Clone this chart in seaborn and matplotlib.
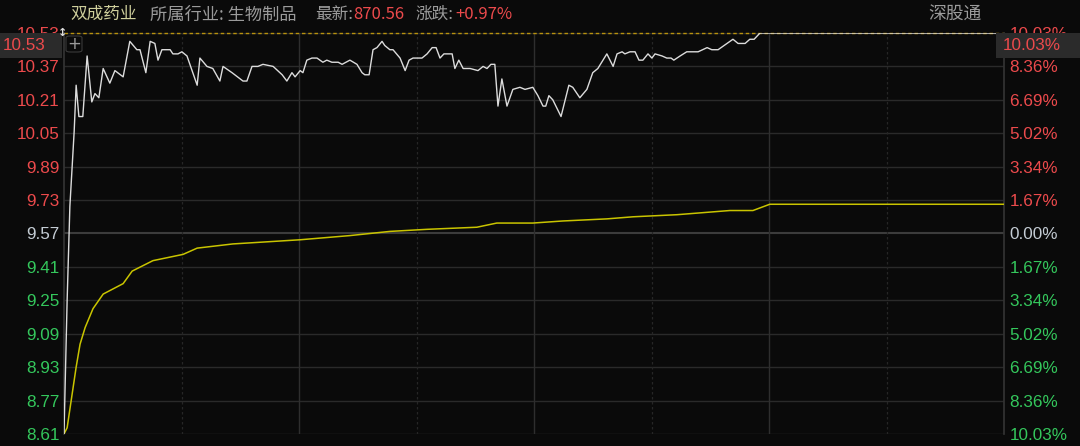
import matplotlib
matplotlib.use("Agg")
import matplotlib.pyplot as plt
import seaborn as sns
import pandas as pd
from matplotlib.patches import FancyBboxPatch

# ---------------- data ----------------
price_minutes = [0, 0.8, 1.5, 2.6, 3.1, 3.8, 4.8, 5.9, 7.1, 7.9, 8.9, 10.0, 11.7, 13.0, 15.1, 16.8,
                 18.6, 19.4, 20.9, 22.0, 23.2, 24.0, 25.0, 27.1, 27.8, 29.1, 30.1, 31.4, 34.0, 34.7,
                 36.5, 38.0, 39.8, 40.6, 42.9, 45.7, 46.7, 48.0, 49.5, 50.8, 53.4, 55.7, 56.9, 58.2,
                 59.0, 60.3, 61.0, 62.0, 63.3, 64.6, 66.1, 67.1, 68.4, 70.0, 71.0, 73.0, 74.8, 76.1,
                 76.8, 77.9, 78.9, 79.9, 81.2, 81.9, 83.2, 84.0, 85.8, 87.1, 88.1, 89.1, 91.4, 92.7,
                 94.0, 95.0, 96.0, 97.0, 99.1, 99.8, 100.8, 101.9, 103.7, 105.7, 107.0, 108.0, 109.0,
                 110.0, 110.8, 111.8, 113.1, 114.6, 116.4, 117.7, 119.7, 121.0, 122.3, 123.0, 123.8,
                 124.8, 126.9, 128.9, 129.9, 131.7, 133.5, 135.0, 136.3, 138.6, 140.2, 141.2, 142.5,
                 143.2, 144.5, 145.8, 146.8, 147.8, 149.1, 150.1, 150.9, 152.7, 153.9, 155.0, 155.7,
                 157.3, 159.0, 161.9, 164.2, 165.4, 167.0, 169.3, 170.8, 172.1, 173.9, 175.1, 176.2,
                 177.7, 240]
price_values = [8.61, 9.25, 9.70, 10.06, 10.28, 10.13, 10.13, 10.42, 10.20, 10.24, 10.22, 10.36,
                10.29, 10.35, 10.32, 10.49, 10.45, 10.45, 10.34, 10.49, 10.48, 10.40, 10.45, 10.45,
                10.43, 10.43, 10.44, 10.42, 10.28, 10.41, 10.37, 10.36, 10.30, 10.37, 10.34, 10.30,
                10.30, 10.37, 10.37, 10.38, 10.37, 10.33, 10.30, 10.34, 10.32, 10.35, 10.34, 10.40,
                10.41, 10.41, 10.39, 10.40, 10.39, 10.39, 10.38, 10.40, 10.38, 10.34, 10.33, 10.33,
                10.45, 10.46, 10.49, 10.47, 10.45, 10.45, 10.41, 10.35, 10.40, 10.41, 10.41, 10.43,
                10.46, 10.46, 10.41, 10.43, 10.43, 10.36, 10.40, 10.36, 10.36, 10.35, 10.37, 10.36,
                10.38, 10.38, 10.18, 10.31, 10.18, 10.26, 10.27, 10.26, 10.27, 10.23, 10.18, 10.18,
                10.23, 10.21, 10.13, 10.28, 10.27, 10.22, 10.26, 10.34, 10.36, 10.43, 10.37, 10.43,
                10.44, 10.43, 10.44, 10.44, 10.40, 10.40, 10.43, 10.41, 10.43, 10.42, 10.41, 10.41,
                10.40, 10.42, 10.44, 10.44, 10.46, 10.45, 10.45, 10.48, 10.50, 10.48, 10.48, 10.50,
                10.50, 10.53, 10.53]

avg_minutes = [0, 0.8, 3.1, 4.1, 5.4, 7.4, 10.0, 15.1, 17.4, 22.7, 30.4, 34.0, 43.1, 60.3, 73.0,
               83.2, 92.7, 105.4, 110.5, 119.7, 127.4, 138.6, 145.3, 156.5, 170.0, 175.9, 180.2, 240]
avg_values = [8.61, 8.64, 8.93, 9.04, 9.12, 9.21, 9.28, 9.33, 9.39, 9.44, 9.47, 9.50, 9.52, 9.54,
              9.56, 9.58, 9.59, 9.60, 9.62, 9.62, 9.63, 9.64, 9.65, 9.66, 9.68, 9.68, 9.71, 9.71]

price_ticks = [10.53, 10.37, 10.21, 10.05, 9.89, 9.73, 9.57, 9.41, 9.25, 9.09, 8.93, 8.77, 8.61]
price_tick_labels = ["10.53", "10.37", "10.21", "10.05", "9.89", "9.73", "9.57", "9.41", "9.25",
                     "9.09", "8.93", "8.77", "8.61"]
pct_tick_labels = ["10.03%", "8.36%", "6.69%", "5.02%", "3.34%", "1.67%", "0.00%", "1.67%",
                   "3.34%", "5.02%", "6.69%", "8.36%", "10.03%"]
prev_close = 9.57
limit_up = 10.53

stock_name = "双成药业"
industry = "所属行业: 生物制品"
latest_label = "最新:"
latest_value = "870.56"
change_label = "涨跌:"
change_value = "+0.97%"
channel = "深股通"

# ---------------- style ----------------
BG = "#0a0a0a"
RED = "#ec4a4c"
GREEN = "#34c75c"
GRAY_TXT = "#9b9b9b"
NEUTRAL = "#c4ccd4"
GRID = "#2a2a2a"

sns.set_theme(style="dark", rc={
    "figure.facecolor": BG, "axes.facecolor": BG, "axes.edgecolor": "#3a3a3a",
    "axes.grid": False, "savefig.facecolor": BG,
})
plt.rcParams["font.family"] = ["Liberation Sans", "DejaVu Sans"]
CJK = ["Noto Sans CJK SC", "DejaVu Sans"]
TICK_FS = 12.3

fig = plt.figure(figsize=(10.8, 4.46), dpi=100)
ax = fig.add_axes([64 / 1080, 1 - 434 / 446, 940 / 1080, 401 / 446])

price_df = pd.DataFrame({"minute": price_minutes, "price": price_values})
avg_df = pd.DataFrame({"minute": avg_minutes, "price": avg_values})

ax.set_xlim(0, 240)
ax.set_ylim(min(price_ticks), max(price_ticks))

# grid
for t in price_ticks:
    ax.axhline(t, color="#3c3c3c" if t == prev_close else GRID,
               lw=1.0 if t != prev_close else 1.5, zorder=0)
for m in [30, 90, 150, 210]:
    ax.axvline(m, color="#262626", lw=0.9, ls=(0, (2, 2)), zorder=0)
for m in [60, 120, 180]:
    ax.axvline(m, color="#2e2e2e", lw=1.0, zorder=0)

# limit-up dashed line
ax.axhline(limit_up, color="#b8920e", lw=1.0, ls=(0, (2.5, 2)), zorder=1, clip_on=False)

sns.lineplot(data=avg_df, x="minute", y="price", ax=ax, color="#c9c400", lw=1.1, zorder=3,
             estimator=None, sort=False)
sns.lineplot(data=price_df, x="minute", y="price", ax=ax, color="#dcdcdc", lw=1.0, zorder=4,
             estimator=None, sort=False)

ax.set_xlabel("")
ax.set_ylabel("")
ax.set_xticks([])
for s in ["top", "bottom"]:
    ax.spines[s].set_visible(False)
ax.spines["left"].set_color("#333333")
ax.spines["right"].set_color("#333333")

def tick_color(v):
    if v > prev_close + 1e-9:
        return RED
    if v < prev_close - 1e-9:
        return GREEN
    return NEUTRAL

ax.set_yticks(price_ticks)
ax.set_yticklabels(price_tick_labels, fontsize=TICK_FS)
ax.tick_params(axis="y", length=0, pad=3)
for lab, v in zip(ax.get_yticklabels(), price_ticks):
    lab.set_color(tick_color(v))

ax2 = ax.twinx()
ax2.set_ylim(ax.get_ylim())
ax2.set_yticks(price_ticks)
ax2.set_yticklabels(pct_tick_labels, fontsize=TICK_FS)
ax2.tick_params(axis="y", length=0, pad=4)
for lab, v in zip(ax2.get_yticklabels(), price_ticks):
    lab.set_color(tick_color(v))
for s in ax2.spines.values():
    s.set_visible(False)
ax2.grid(False)

# header
ty = 1 - 14.5 / 446
fig.text(70 / 1080, ty, stock_name, color="#cfcf9c", fontsize=12, va="center", family=CJK)
fig.text(150 / 1080, ty, industry, color=GRAY_TXT, fontsize=12.4, va="center", family=CJK)
fig.text(315 / 1080, ty, latest_label, color=GRAY_TXT, fontsize=12, va="center", family=CJK)
fig.text(353 / 1080, ty, latest_value, color=RED, fontsize=12, va="center", family=CJK)
fig.text(415 / 1080, ty, change_label, color=GRAY_TXT, fontsize=12, va="center", family=CJK)
fig.text(455 / 1080, ty, change_value, color=RED, fontsize=12, va="center", family=CJK)
fig.text(982 / 1080, ty, channel, color=GRAY_TXT, fontsize=12.8, va="center", ha="right", family=CJK)

# current value boxes (drawn over the partially hidden top tick labels, as in the source)
fig.patches.append(FancyBboxPatch((0, 1 - 58 / 446), 62 / 1080, 25 / 446, boxstyle="square,pad=0",
                                  transform=fig.transFigure, facecolor="#2b2b2b", edgecolor="none",
                                  zorder=5))
fig.text(3 / 1080, 1 - 45.5 / 446, price_tick_labels[0], color=RED, fontsize=TICK_FS, va="center",
         zorder=6)
fig.patches.append(FancyBboxPatch((996 / 1080, 1 - 58 / 446), 84 / 1080, 25 / 446,
                                  boxstyle="square,pad=0", transform=fig.transFigure,
                                  facecolor="#2b2b2b", edgecolor="none", zorder=5))
fig.text(1003 / 1080, 1 - 45.5 / 446, pct_tick_labels[0], color=RED, fontsize=TICK_FS, va="center",
         zorder=6)

# "+" button and marker icon
fig.patches.append(FancyBboxPatch((66 / 1080, 1 - 52 / 446), 16 / 1080, 16 / 446,
                                  boxstyle="round,pad=0,rounding_size=0.004",
                                  transform=fig.transFigure, facecolor=BG, edgecolor="#3a3a3a",
                                  lw=0.8, zorder=5))
fig.text(74 / 1080, 1 - 44 / 446, "+", color="#9a9a9a", fontsize=12, ha="center", va="center",
         zorder=6, family=["DejaVu Sans"])
fig.text(62.5 / 1080, 1 - 33 / 446, "↕", color="#dddddd", fontsize=8, ha="center", va="center",
         zorder=6, family=["DejaVu Sans"], fontweight="bold")

fig.savefig("out.png", dpi=100, facecolor=BG)
